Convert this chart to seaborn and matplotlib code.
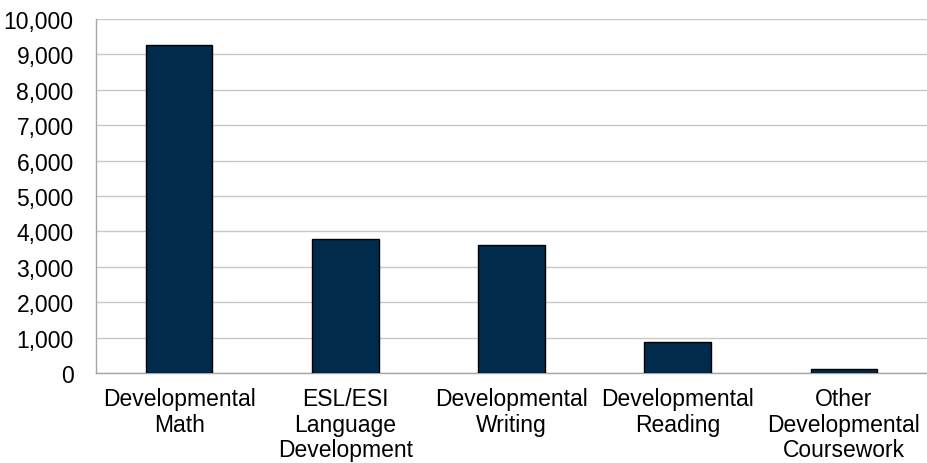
import matplotlib
matplotlib.use("Agg")
import matplotlib.pyplot as plt
import seaborn as sns
import pandas as pd
from matplotlib.ticker import FuncFormatter, FixedLocator

categories = ["Developmental\nMath", "ESL/ESI\nLanguage\nDevelopment", "Developmental\nWriting",
              "Developmental\nReading", "Other\nDevelopmental\nCoursework"]
values = [9260, 3780, 3610, 870, 110]
yticks = list(range(0, 10001, 1000))

sns.set_theme(style="white")
plt.rcParams['font.family'] = ['Liberation Sans', 'DejaVu Sans']

df = pd.DataFrame({"cat": categories, "val": values})

fig = plt.figure(figsize=(9.28, 4.64), dpi=100)
ax = fig.add_axes([0.1034, 0.194, 0.8956, 0.763])
sns.barplot(data=df, x="cat", y="val", ax=ax, color="#002B4D", width=0.4,
            edgecolor="black", linewidth=1, saturation=1, zorder=3)

ax.set_xlim(-0.5, len(categories) - 0.5)
ax.set_ylim(0, 10000)
ax.set_yticks(yticks)
ax.yaxis.set_major_formatter(FuncFormatter(lambda v, p: f"{int(v):,}"))
ax.grid(axis="y", color="#C8C8C8", linewidth=1, zorder=0)
ax.set_axisbelow(True)
ax.set_xlabel("")
ax.set_ylabel("")

for s in ["top", "right"]:
    ax.spines[s].set_visible(False)
ax.spines["left"].set_color("#A6A6A6")
ax.spines["bottom"].set_color("#A6A6A6")
ax.spines["left"].set_linewidth(1)
ax.spines["bottom"].set_linewidth(1)

ax.tick_params(axis="y", length=0, pad=16, labelsize=16.5, colors="black")
ax.tick_params(axis="x", which="major", length=0, pad=10, labelsize=16.5, colors="black")
ax.xaxis.set_minor_locator(FixedLocator([i + 0.5 for i in range(len(categories) - 1)]))
ax.tick_params(axis="x", which="minor", length=6, direction="in", color="#A6A6A6", width=1)
for lab in ax.get_xticklabels():
    lab.set_linespacing(1.15)

fig.savefig("out.png", dpi=100)
